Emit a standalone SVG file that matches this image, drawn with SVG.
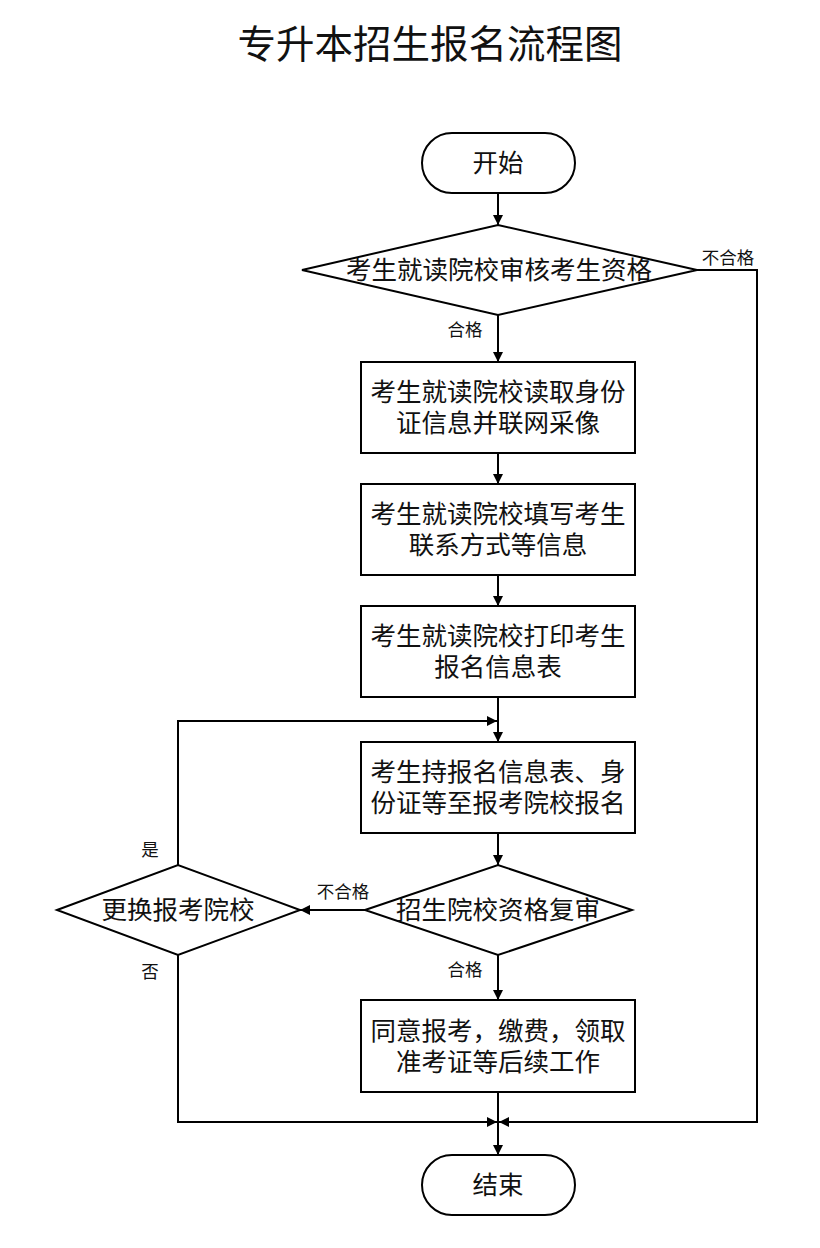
<svg xmlns="http://www.w3.org/2000/svg" width="820" height="1248" viewBox="0 0 820 1248">
<defs>
<marker id="arr" viewBox="0 0 10 10" refX="10" refY="5" markerWidth="10" markerHeight="10" markerUnits="userSpaceOnUse" orient="auto">
<path d="M0,0 L10,5 L0,10 z" fill="#000"/>
</marker>
<style>
.s{fill:#fff;stroke:#000;stroke-width:2}
.c{fill:none;stroke:#000;stroke-width:2}
.t{font-family:"Liberation Sans","Noto Sans CJK SC",sans-serif;fill:#111;text-anchor:middle}
.m{font-size:25.5px}
.l{font-size:17.5px}
</style>
</defs>
<rect width="820" height="1248" fill="#fff"/>
<text class="t" x="430" y="58" font-size="38.5">专升本招生报名流程图</text>
<g id="connectors">
<path class="c" d="M498,193 V225" marker-end="url(#arr)"/>
<path class="c" d="M498,315 V362" marker-end="url(#arr)"/>
<path class="c" d="M498,453 V484" marker-end="url(#arr)"/>
<path class="c" d="M498,575 V606" marker-end="url(#arr)"/>
<path class="c" d="M498,697 V742" marker-end="url(#arr)"/>
<path class="c" d="M178,865 V721 H497" marker-end="url(#arr)"/>
<path class="c" d="M498,833 V865" marker-end="url(#arr)"/>
<path class="c" d="M365,910 H300" marker-end="url(#arr)"/>
<path class="c" d="M498,955 V1000" marker-end="url(#arr)"/>
<path class="c" d="M498,1092 V1155" marker-end="url(#arr)"/>
<path class="c" d="M178,955 V1122 H497" marker-end="url(#arr)"/>
<path class="c" d="M697,270 H757 V1122 H499" marker-end="url(#arr)"/>
<text class="t l" x="728" y="264">不合格</text>
<text class="t l" x="465" y="336">合格</text>
<text class="t l" x="343" y="898">不合格</text>
<text class="t l" x="465" y="976">合格</text>
<text class="t l" x="150" y="856">是</text>
<text class="t l" x="150" y="978">否</text>
</g>
<g id="start">
<rect class="s" x="422" y="133" width="153" height="60" rx="30"/>
<text class="t m" x="498" y="172">开始</text>
</g>
<g id="check1">
<polygon class="s" points="302,270 498,225 697,270 498,315"/>
<text class="t" x="499" y="279" font-size="25.5">考生就读院校审核考生资格</text>
</g>
<g id="box1">
<rect class="s" x="361" y="362" width="274" height="91"/>
<text class="t m" x="498" y="401">考生就读院校读取身份</text>
<text class="t m" x="498" y="432">证信息并联网采像</text>
</g>
<g id="box2">
<rect class="s" x="361" y="484" width="274" height="91"/>
<text class="t m" x="498" y="523">考生就读院校填写考生</text>
<text class="t m" x="498" y="554">联系方式等信息</text>
</g>
<g id="box3">
<rect class="s" x="361" y="606" width="274" height="91"/>
<text class="t m" x="498" y="645">考生就读院校打印考生</text>
<text class="t m" x="498" y="676">报名信息表</text>
</g>
<g id="box4">
<rect class="s" x="361" y="742" width="274" height="91"/>
<text class="t m" x="498" y="781">考生持报名信息表、身</text>
<text class="t m" x="498" y="812">份证等至报考院校报名</text>
</g>
<g id="check2">
<polygon class="s" points="365,910 498,865 632,910 498,955"/>
<text class="t" x="498" y="919" font-size="25.5">招生院校资格复审</text>
</g>
<g id="change">
<polygon class="s" points="57,910 178,865 300,910 178,955"/>
<text class="t" x="178" y="919" font-size="25.5">更换报考院校</text>
</g>
<g id="box5">
<rect class="s" x="361" y="1000" width="274" height="92"/>
<text class="t m" x="498" y="1040">同意报考，缴费，领取</text>
<text class="t m" x="498" y="1071">准考证等后续工作</text>
</g>
<g id="end">
<rect class="s" x="422" y="1155" width="153" height="60" rx="30"/>
<text class="t m" x="498" y="1194">结束</text>
</g>
</svg>
